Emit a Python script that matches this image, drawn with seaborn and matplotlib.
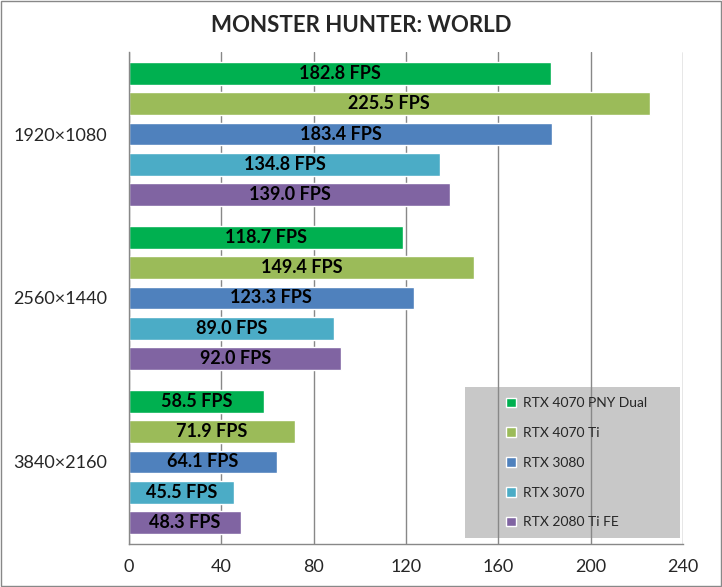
import pandas as pd
import matplotlib
matplotlib.use("Agg")
import matplotlib.pyplot as plt
import seaborn as sns
from matplotlib.patches import Rectangle

# data
resolutions = ["1920×1080", "2560×1440", "3840×2160"]
cards = ["RTX 4070 PNY Dual", "RTX 4070 Ti", "RTX 3080", "RTX 3070", "RTX 2080 Ti FE"]
fps_4070_pny = [182.8, 118.7, 58.5]
fps_4070_ti = [225.5, 149.4, 71.9]
fps_3080 = [183.4, 123.3, 64.1]
fps_3070 = [134.8, 89.0, 45.5]
fps_2080ti = [139.0, 92.0, 48.3]
colors = ["#00B050", "#9BBB59", "#4F81BD", "#4BACC6", "#8064A2"]
x_ticks = [0, 40, 80, 120, 160, 200, 240]

rows = []
for card, vals in zip(cards, [fps_4070_pny, fps_4070_ti, fps_3080, fps_3070, fps_2080ti]):
    for res, v in zip(resolutions, vals):
        rows.append({"res": res, "card": card, "fps": v})
df = pd.DataFrame(rows)

sns.set_style("white")
plt.rcParams["font.family"] = ["Lato", "DejaVu Sans"]

fig = plt.figure(figsize=(7.22, 5.87), dpi=100)
ax = fig.add_axes([0.1787, 0.0733, 0.7673, 0.8381])

sns.barplot(data=df, y="res", x="fps", hue="card", order=resolutions,
            hue_order=cards, palette=colors, orient="h", width=0.92,
            gap=0.24, saturation=1, ax=ax, errorbar=None)

for cont in ax.containers:
    ax.bar_label(cont, labels=[f"{b.get_width():.1f} FPS" for b in cont],
                 label_type="center", fontsize=13, fontweight="bold", color="black")

ax.set_xlim(0, 240)
ax.set_xticks(x_ticks)
ax.set_ylim(2.5, -0.5)
ax.set_yticks([-0.5, 0.5, 1.5, 2.5], minor=True)
ax.tick_params(axis="y", which="major", length=0, labelsize=13, pad=16)
ax.tick_params(axis="y", which="minor", length=5, color="#888888", width=1)
ax.tick_params(axis="x", length=5, color="#888888", labelsize=13, pad=6)
ax.grid(axis="x", color="#888888", linewidth=1)
ax.set_axisbelow(True)
ax.set_xlabel("")
ax.set_ylabel("")
for s in ["top", "right"]:
    ax.spines[s].set_visible(False)
for s in ["left", "bottom"]:
    ax.spines[s].set_color("#888888")
    ax.spines[s].set_linewidth(1)

# gray legend box, gridlines show through it like in the original
ax.add_patch(Rectangle((0.6065, 0.0122), 0.3881, 0.3068, transform=ax.transAxes,
                       facecolor="#C8C8C8", edgecolor="none", zorder=0.2))
leg = ax.legend(loc="upper left", bbox_to_anchor=(0.681, 0.298), frameon=False,
                fontsize=10, handlelength=0.7, handleheight=0.7, labelspacing=1.28,
                borderpad=0, handletextpad=0.5, borderaxespad=0)
leg.set_zorder(5)

fig.text(0.5, 0.957, "MONSTER HUNTER: WORLD", ha="center", va="center",
         fontsize=16, fontweight="bold")
fig.patches.append(Rectangle((0.001, 0.001), 0.997, 0.997, transform=fig.transFigure,
                             fill=False, edgecolor="#888888", linewidth=1))

fig.savefig("out.png", dpi=100)
